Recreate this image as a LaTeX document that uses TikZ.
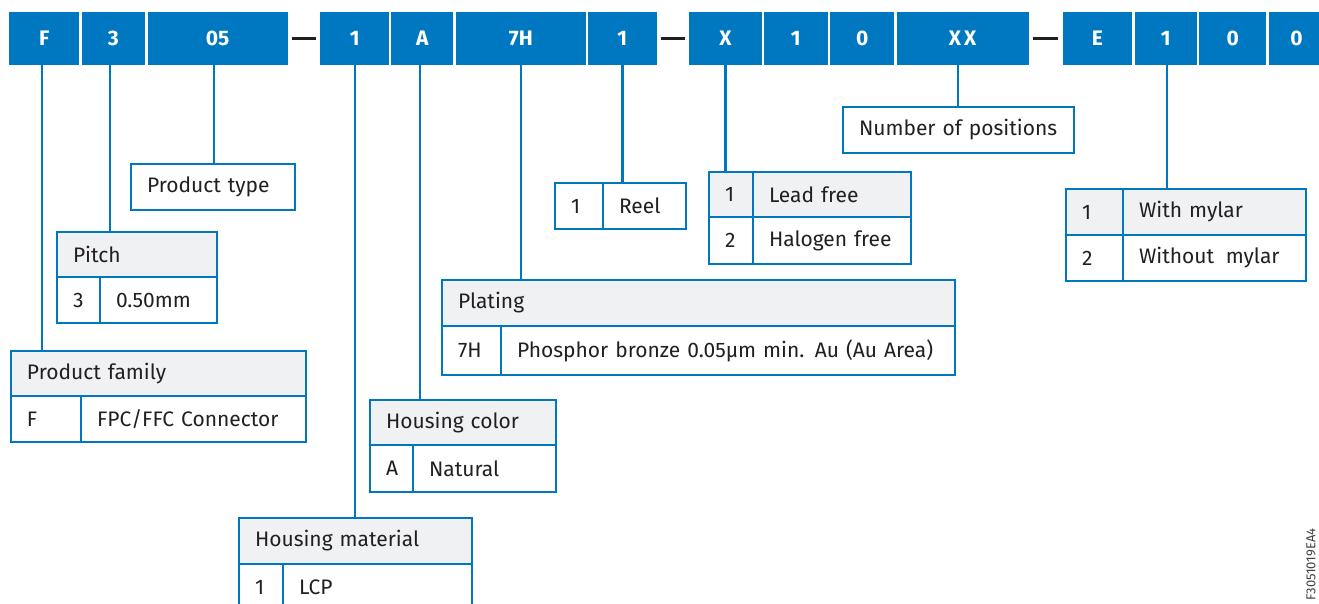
\documentclass[tikz,border=0pt]{standalone}
\usepackage{fontspec}
\setmainfont{Fira Sans}
\definecolor{ablue}{RGB}{0,120,193}
\definecolor{hgray}{RGB}{240,241,243}
\definecolor{ink}{RGB}{35,31,32}
\begin{document}
\begin{tikzpicture}[x=1pt,y=-1pt,
  barbox/.style={fill=ablue, text=white, font=\fontsize{21}{25}\selectfont\bfseries, minimum height=53pt, inner sep=0pt, outer sep=0pt, anchor=north west},
  cell/.style={draw=ablue, line width=2.4pt, anchor=north west, inner xsep=16pt, inner ysep=0pt, outer sep=0pt, text=ink, font=\fontsize{21}{25}\selectfont, align=left},
  head/.style={cell, fill=hgray},
  conn/.style={draw=ablue, line width=2.4pt},
  dashln/.style={draw=ink, line width=3pt, shorten <=4.3pt, shorten >=4.3pt}
]
\useasboundingbox (0,0) rectangle (1319,604);
\fill[white] (0,0) rectangle (1319,604);

% ---- code bar
\node[barbox, minimum width=69.8pt] (bF)  at (9.3,12)   {F};
\node[barbox, minimum width=63.5pt] (b3)  at (81.7,12)  {3};
\node[barbox, minimum width=139.8pt] (b05) at (147.7,12) {05};
\node[barbox, minimum width=69pt]   (b1a) at (320.3,12) {1};
\node[barbox, minimum width=61.9pt] (bA)  at (391.4,12) {A};
\node[barbox, minimum width=130.1pt] (b7H) at (455.8,12) {7H};
\node[barbox, minimum width=68.6pt] (b1b) at (588,12)   {1};
\node[barbox, minimum width=72.3pt] (bX)  at (689.4,12) {X};
\node[barbox, minimum width=63.9pt] (b1c) at (763.8,12) {1};
\node[barbox, minimum width=63.9pt] (b0a) at (830.2,12) {0};
\node[barbox, minimum width=131.9pt] (bXX) at (896.7,12) {X\hspace{3pt}X};
\node[barbox, minimum width=69.3pt] (bE)  at (1062.7,12) {E};
\node[barbox, minimum width=62.2pt] (b1d) at (1134.6,12) {1};
\node[barbox, minimum width=66.8pt] (b0b) at (1199.3,12) {0};
\node[barbox, minimum width=55pt]   (b0c) at (1269,12)  {0};

\draw[dashln] (b05.east) -- (b1a.west);
\draw[dashln] (b1b.east) -- (bX.west);
\draw[dashln] (bXX.east) -- (bE.west);

% ---- Product family
\node[head, text width=263pt, minimum height=45pt] (pfh) at (11,351) {Product family};
\node[cell, text width=38pt, minimum height=46pt] (pfk) at (11,396) {F};
\node[cell, text width=193pt, minimum height=46pt] (pfv) at (81,396) {FPC/FFC Connector};

% ---- Pitch
\node[head, text width=128pt, minimum height=45pt] (pih) at (57,232) {Pitch};
\node[cell, text width=11pt, minimum height=46pt] (pik) at (57,277) {3};
\node[cell, text width=85pt, minimum height=46pt] (piv) at (100,277) {0.50mm};

% ---- Product type
\node[cell, text width=132pt, minimum height=46pt] (pt) at (131,164) {Product type};

% ---- Housing material
\node[head, text width=201pt, minimum height=46pt] (hmh) at (239,518) {Housing material};
\node[cell, text width=12pt, minimum height=46pt] (hmk) at (239,564) {1};
\node[cell, text width=157pt, minimum height=46pt] (hmv) at (283,564) {LCP};

% ---- Housing color
\node[head, text width=154pt, minimum height=45pt] (hch) at (370,400) {Housing color};
\node[cell, text width=11pt, minimum height=47pt] (hck) at (370,445) {A};
\node[cell, text width=111pt, minimum height=47pt] (hcv) at (413,445) {Natural};

% ---- Plating
\node[head, text width=481pt, minimum height=46pt] (plh) at (442,280) {Plating};
\node[cell, text width=27pt, minimum height=49pt] (plk) at (442,326) {7H};
\node[cell, text width=422pt, minimum height=49pt] (plv) at (501,326) {Phosphor bronze 0.05µm min. Au (Au Area)};

% ---- Reel
\node[cell, text width=16pt, minimum height=46pt] (rlk) at (555,183) {1};
\node[cell, text width=51pt, minimum height=46pt] (rlv) at (603,183) {Reel};

% ---- Lead free
\node[head, text width=12pt, minimum height=45pt] (lfk1) at (709,172) {1};
\node[head, text width=126pt, minimum height=45pt] (lfv1) at (753,172) {Lead free};
\node[cell, text width=12pt, minimum height=47pt] (lfk2) at (709,217) {2};
\node[cell, text width=126pt, minimum height=47pt] (lfv2) at (753,217) {Halogen free};

% ---- Number of positions
\node[cell, text width=199pt, minimum height=46pt] (np) at (843,107) {Number of positions};

% ---- Mylar
\node[head, text width=25pt, minimum height=46pt] (myk1) at (1066,189) {1};
\node[head, text width=151pt, minimum height=46pt] (myv1) at (1123,189) {With mylar};
\node[cell, text width=25pt, minimum height=46pt] (myk2) at (1066,235) {2};
\node[cell, text width=151pt, minimum height=46pt] (myv2) at (1123,235) {Without\hspace{0.55em}mylar};

% ---- connectors
\draw[conn] ([xshift=-2.5pt]bF.south)  -- ([xshift=-2.5pt]bF.south |- pfh.north);
\draw[conn] ([xshift=-3.2pt]b3.south)  -- ([xshift=-3.2pt]b3.south |- pih.north);
\draw[conn] ([xshift=-3.4pt]b05.south) -- ([xshift=-3.4pt]b05.south |- pt.north);
\draw[conn] (b1a.south) -- (b1a.south |- hmh.north);
\draw[conn] ([xshift=-2.4pt]bA.south)  -- ([xshift=-2.4pt]bA.south |- hch.north);
\draw[conn] (b7H.south) -- (b7H.south |- plh.north);
\draw[conn] (b1b.south) -- (b1b.south |- rlk.north);
\draw[conn] (bX.south)  -- (bX.south |- lfk1.north);
\draw[conn] ([xshift=-4.6pt]bXX.south) -- ([xshift=-4.6pt]bXX.south |- np.north);
\draw[conn] ([xshift=1.3pt]b1d.south) -- ([xshift=1.3pt]b1d.south |- myv1.north);

% ---- document code
\node[rotate=90, anchor=west, inner sep=0pt, text=ink!85, font=\fontsize{13}{15}\selectfont] (code) at (1311,601) {F3051019EA4};
\end{tikzpicture}
\end{document}
